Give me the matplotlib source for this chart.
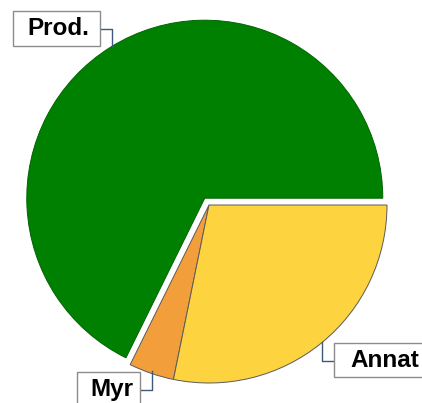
import matplotlib.pyplot as plt
from matplotlib.patches import Rectangle

labels = ["Prod.", "Myr", "Annat"]
values = [67.7, 4.1, 28.2]
colors = ["#008000", "#f29e3b", "#fdd43f"]
edges = ["#006400", "#5a5a5a", "#5a5a5a"]
explode = [8, 0, 0]  # pie explode is in data units (pixels here)

W, H = 422, 403
fig = plt.figure(figsize=(W / 100, H / 100), dpi=100)
ax = fig.add_axes([0, 0, 1, 1])

wedges, _ = ax.pie(values, colors=colors, startangle=0, explode=explode,
                   center=(209, H - 205), radius=178, frame=True,
                   wedgeprops=dict(linewidth=0.7))
for w, ec in zip(wedges, edges):
    w.set_edgecolor(ec)
ax.set_xlim(0, W)
ax.set_ylim(0, H)
ax.set_aspect("equal")
ax.axis("off")

# label boxes (pixel coords, y from top): x0, y0, x1, y1 and leader line
boxes = {
    "Prod.": ((13, 11, 100, 46), [(100, 29), (112, 29), (112, 47)]),
    "Myr": ((77, 372, 140, 410), [(140, 390), (152, 390), (152, 371)]),
    "Annat": ((334, 343, 430, 377), [(334, 361), (322, 361), (322, 342)]),
}
text_x = {"Prod.": 58, "Myr": 112, "Annat": 385}
for lab in labels:
    (x0, y0, x1, y1), pts = boxes[lab]
    ax.add_patch(Rectangle((x0, H - y1), x1 - x0, y1 - y0, facecolor="white",
                           edgecolor="#8c8c8c", linewidth=1, zorder=5,
                           clip_on=False))
    ax.text(text_x[lab], H - (y0 + 17.5), lab, ha="center", va="center",
            fontsize=17.5, fontweight="bold", family="Liberation Sans", zorder=6)
    xs = [p[0] for p in pts]
    ys = [H - p[1] for p in pts]
    ax.plot(xs, ys, color="#3d5a78", linewidth=1, zorder=4)

fig.savefig("out.png", dpi=100)
